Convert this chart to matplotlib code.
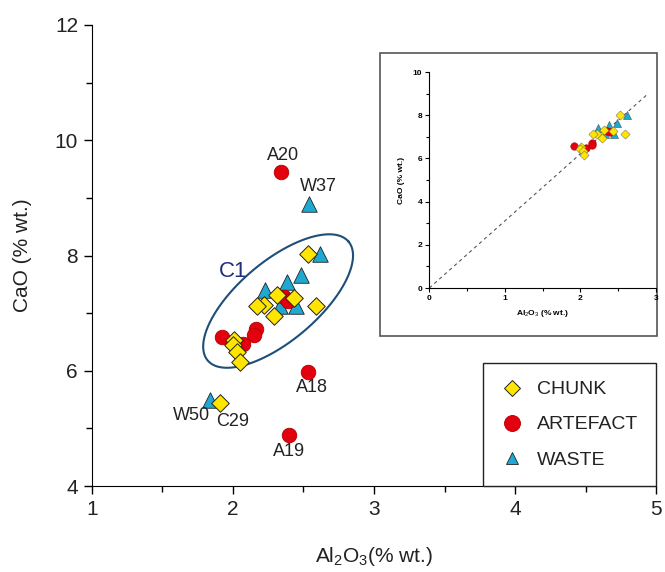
#!/usr/bin/env python3
"""
CaO vs Al2O3 scatter with inset (chunk / artefact / waste)
"""
import numpy as np
import matplotlib
matplotlib.use('Agg')
import matplotlib.pyplot as plt
from matplotlib.lines import Line2D
from matplotlib.patches import Rectangle

plt.rcParams['font.family'] = ['Liberation Sans', 'DejaVu Sans']
plt.rcParams['mathtext.fontset'] = 'custom'
plt.rcParams['mathtext.rm'] = 'Liberation Sans'
plt.rcParams['mathtext.it'] = 'Liberation Sans'

# data (Al2O3, CaO in % wt.)
chunk_al = [2.53, 2.22, 2.17, 2.29, 2.43, 2.59, 2.31, 2.01, 2.00, 2.03, 2.05, 1.91]
chunk_ca = [8.02, 7.14, 7.12, 6.95, 7.27, 7.12, 7.31, 6.53, 6.44, 6.33, 6.15, 5.44]
artefact_al = [2.36, 2.39, 2.16, 2.15, 2.07, 1.92, 2.34, 2.53, 2.40]
artefact_ca = [7.28, 7.21, 6.73, 6.62, 6.47, 6.58, 9.45, 5.98, 4.88]
waste_al = [2.62, 2.48, 2.38, 2.23, 2.33, 2.45, 2.54, 1.84]
waste_ca = [8.02, 7.66, 7.54, 7.40, 7.12, 7.12, 8.89, 5.50]

# labelled samples: (name, x, y, offset in pixels, horizontal alignment)
labels = [('A20', 2.34, 9.45, (2, 16), 'center'),
          ('W37', 2.54, 8.89, (9, 18), 'center'),
          ('A18', 2.53, 5.98, (4, -16), 'center'),
          ('A19', 2.40, 4.88, (0, -16), 'center'),
          ('C29', 1.91, 5.44, (12, -18), 'center'),
          ('W50', 1.84, 5.50, (0, -16), 'right')]

# inset: outliers left out
inset_chunk_al = chunk_al[:11]
inset_chunk_ca = chunk_ca[:11]
inset_artefact_al = artefact_al[:6]
inset_artefact_ca = artefact_ca[:6]
inset_waste_al = waste_al[:6]
inset_waste_ca = waste_ca[:6]
trend_x = [0.0, 2.9]
trend_y = [0.0, 9.0]

# C1 ellipse (centre, semi-axis vectors in data units)
c1_center = (2.32, 7.21)
c1_major = (0.50, 1.03)
c1_minor = (0.18, -0.53)

YELLOW = '#FFE500'
RED = '#E3000F'
CYAN = '#1EA8D2'
NAVY = '#1F2E78'
TEXT = '#222222'

fig = plt.figure(figsize=(6.65, 5.72), dpi=100)
ax = fig.add_axes([0.1383, 0.1503, 0.8482, 0.806])

ax.scatter(waste_al, waste_ca, marker='^', s=125, c=CYAN, edgecolors='#222222', linewidths=0.6, zorder=3)
ax.scatter(artefact_al, artefact_ca, marker='o', s=110, c=RED, edgecolors='#B00000', linewidths=0.6, zorder=4)
ax.scatter(chunk_al, chunk_ca, marker='D', s=80, c=YELLOW, edgecolors='#222222', linewidths=0.7, zorder=5)

t = np.linspace(0, 2 * np.pi, 200)
ex = c1_center[0] + c1_major[0] * np.cos(t) + c1_minor[0] * np.sin(t)
ey = c1_center[1] + c1_major[1] * np.cos(t) + c1_minor[1] * np.sin(t)
ax.plot(ex, ey, color='#1F4E79', lw=1.5, zorder=2)
ax.text(2.0, 7.73, 'C1', color=NAVY, fontsize=16, ha='center', va='center')

for name, x, y, off, ha in labels:
    ax.annotate(name, (x, y), xytext=off, textcoords='offset pixels',
                ha=ha, va='center', fontsize=13, color=TEXT)

ax.set_xlim(1, 5)
ax.set_ylim(4, 12)
ax.set_xticks([1, 2, 3, 4, 5])
ax.set_yticks([4, 6, 8, 10, 12])
ax.set_xticks(np.arange(1.5, 5, 1), minor=True)
ax.set_yticks(np.arange(5, 12, 2), minor=True)
ax.tick_params(which='major', direction='out', length=6, width=1, labelsize=15, labelcolor=TEXT, pad=4)
ax.tick_params(which='minor', direction='out', length=4, width=1)
for side in ['top', 'right']:
    ax.spines[side].set_visible(False)
ax.set_xlabel('Al$_2$O$_3$(% wt.)', fontsize=15, color=TEXT, labelpad=19)
ax.set_ylabel('CaO (% wt.)', fontsize=15, color=TEXT, labelpad=16)

handles = [Line2D([], [], marker='D', ls='none', ms=8, mfc=YELLOW, mec='#222222', mew=0.7),
           Line2D([], [], marker='o', ls='none', ms=11.5, mfc=RED, mec='#B00000', mew=0.6),
           Line2D([], [], marker='^', ls='none', ms=9, mfc=CYAN, mec='#222222', mew=0.6)]
leg = ax.legend(handles, ['CHUNK', 'ARTEFACT', 'WASTE'], loc='lower right',
                bbox_to_anchor=(1.0, 0.0), borderaxespad=0, fontsize=14,
                frameon=True, fancybox=False, edgecolor='#222222', framealpha=1,
                labelspacing=0.9, handletextpad=0.7, borderpad=0.9, handlelength=1.2)
leg.get_frame().set_linewidth(1.0)
for txt in leg.get_texts():
    txt.set_color(TEXT)

# inset frame and axes
fig.patches.append(Rectangle((0.5714, 0.4126), 0.4165, 0.4948, transform=fig.transFigure,
                             facecolor='white', edgecolor='#555555', lw=1.2, zorder=5))
ins = fig.add_axes([0.6456, 0.4965, 0.3405, 0.3776], zorder=6)
ins.plot(trend_x, trend_y, ls=(0, (3, 3)), color='#555555', lw=0.8)
ins.scatter(inset_waste_al, inset_waste_ca, marker='^', s=34, c=CYAN, edgecolors='#333333', linewidths=0.3, zorder=3)
ins.scatter(inset_artefact_al, inset_artefact_ca, marker='o', s=30, c=RED, edgecolors='#B00000', linewidths=0.3, zorder=4)
ins.scatter(inset_chunk_al, inset_chunk_ca, marker='D', s=22, c=YELLOW, edgecolors='#555555', linewidths=0.3, zorder=5)
ins.set_xlim(0, 3)
ins.set_ylim(0, 10)
ins.set_xticks([0, 1, 2, 3])
ins.set_yticks([0, 2, 4, 6, 8, 10])
ins.set_xticks([0.5, 1.5, 2.5], minor=True)
ins.set_yticks([1, 3, 5, 7, 9], minor=True)
ins.tick_params(which='major', direction='out', length=3, width=0.8, labelsize=6, pad=2)
ins.tick_params(which='minor', direction='out', length=2, width=0.8)
for lab in ins.get_xticklabels() + ins.get_yticklabels():
    lab.set_fontweight('bold')
for side in ['top', 'right']:
    ins.spines[side].set_visible(False)
ins.set_xlabel('Al$_2$O$_3$ (% wt.)', fontsize=6, fontweight='bold', labelpad=4)
ins.set_ylabel('CaO (% wt.)', fontsize=6, fontweight='bold', labelpad=6)

plt.savefig('out.png', dpi=100)
plt.close()
